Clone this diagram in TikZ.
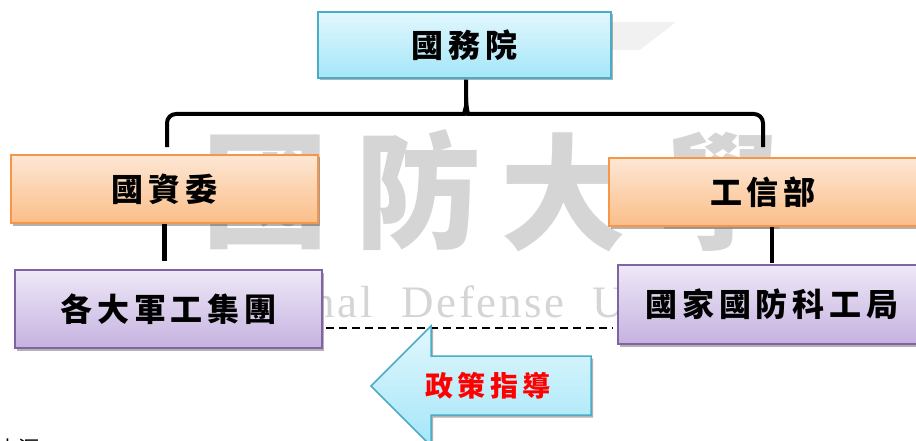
\documentclass[tikz,border=0pt]{standalone}
\usepackage{fontspec}
\setmainfont{Liberation Serif}
\newfontfamily\wmserif[LetterSpace=6]{Liberation Serif}
\newfontfamily\cjk{Noto Sans CJK TC}
\newfontfamily\cjksp[LetterSpace=15]{Noto Sans CJK TC}
\usetikzlibrary{shadows,calc}
\definecolor{cyT}{HTML}{E2F7FD}
\definecolor{cyB}{HTML}{A4E6F8}
\definecolor{cyD}{HTML}{4BACC6}
\definecolor{orT}{HTML}{FDE7D5}
\definecolor{orB}{HTML}{FBBE88}
\definecolor{orD}{HTML}{F79646}
\definecolor{puT}{HTML}{EEE8F7}
\definecolor{puB}{HTML}{C5B2E0}
\definecolor{puD}{HTML}{8064A2}
\definecolor{wm}{HTML}{D5D5D5}
\definecolor{wmlight}{HTML}{F1F1F1}
\tikzset{
  shad/.style={drop shadow={shadow xshift=2pt,shadow yshift=-2.5pt,opacity=0.3,fill=black}},
  boxbase/.style={draw,line width=1.5pt,inner sep=0pt,shad,
    font=\cjksp\bfseries\fontsize{32}{32}\selectfont},
  cyanbox/.style={boxbase,draw=cyD,top color=cyT,bottom color=cyB},
  orangebox/.style={boxbase,draw=orD,top color=orT,bottom color=orB},
  purplebox/.style={boxbase,draw=puD,top color=puT,bottom color=puB},
  braceline/.style={line width=4pt,rounded corners=9pt},
  vline/.style={line width=4.5pt},
  dashline/.style={line width=1.4pt,dash pattern=on 8pt off 5pt},
  wmchar/.style={text=wm,font=\cjk\bfseries\fontsize{126}{126}\selectfont,inner sep=0pt},
  wmtext/.style={text=wm,font=\wmserif\fontsize{45}{45}\selectfont,inner sep=0pt},
}
\begin{document}
\begin{tikzpicture}[x=1pt,y=-1pt]
\useasboundingbox (0,0) rectangle (916,441);
% watermark
\fill[wmlight] (600,22) -- (676,22) -- (640,50) -- (600,50) -- cycle;
\node[wmchar] (w1) at (265,192) {國};
\node[wmchar] (w2) at (418,190) {防};
\node[wmchar] (w3) at (563,192) {大};
\node[wmchar] (w4) at (722,192) {學};
\node[wmtext,anchor=base east] (w5) at (373,317) {National};
\node[wmtext,anchor=base west] (w6) at (401,317) {Defense};
\node[wmtext,anchor=base west] (w7) at (592,317) {University};
% boxes
\node[cyanbox,minimum width=293pt,minimum height=66pt] (gwy) at (464.5,45) {國務院};
\node[orangebox,minimum width=307pt,minimum height=68pt] (gzw) at (164.5,189) {國資委};
\node[orangebox,minimum width=308pt,minimum height=68pt] (gxb) at (763,192) {工信部};
\node[purplebox,minimum width=307pt,minimum height=78pt] (jg) at (168.5,309) {各大軍工集團};
\node[purplebox,minimum width=308pt,minimum height=79pt] (kg) at (772,304.5) {國家國防科工局};
% brace
\coordinate (tip) at ($(gwy.south)+(1.5,1)$);
\coordinate (bl) at ($(gzw.north)+(2.5,-7)$);
\coordinate (br) at ($(gxb.north)+(0,-10)$);
\draw[braceline] (bl) -- (bl |- 0,114) -- ($(tip |- 0,114)+(-11,0)$)
  .. controls ($(tip |- 0,114)+(-2,0)$) and ($(tip)+(0,26)$) .. ($(tip)+(0,18)$) -- (tip);
\draw[braceline] (br) -- (br |- 0,114) -- ($(tip |- 0,114)+(11,0)$)
  .. controls ($(tip |- 0,114)+(2,0)$) and ($(tip)+(0,26)$) .. ($(tip)+(0,18)$);
% vertical connectors
\draw[vline] (gzw.south) -- ($(gzw.south |- jg.north)+(0,-8)$);
\draw[vline] (kg.north |- gxb.south) -- ($(kg.north)+(0,-1)$);
% dashed line
\draw[dashline] ($(jg.east |- 0,328)+(3,0)$) -- ($(kg.west |- 0,328)+(-4,0)$);
% arrow
\path[shad,top color=cyT,bottom color=cyB,draw=cyD,line width=1.5pt]
  (371,386) -- (431,326) -- (431,356) -- (591,356) -- (591,415) -- (431,415) -- (431,446) -- cycle;
\node[text=red,font=\cjksp\bfseries\fontsize{28}{28}\selectfont,inner sep=0pt] (zc) at (488,386) {政策指導};
% source label (cut off)
\node[anchor=base west,inner sep=0pt,font=\cjk\fontsize{21}{21}\selectfont] (src) at (-3,456) {來源：};
\end{tikzpicture}
\end{document}
